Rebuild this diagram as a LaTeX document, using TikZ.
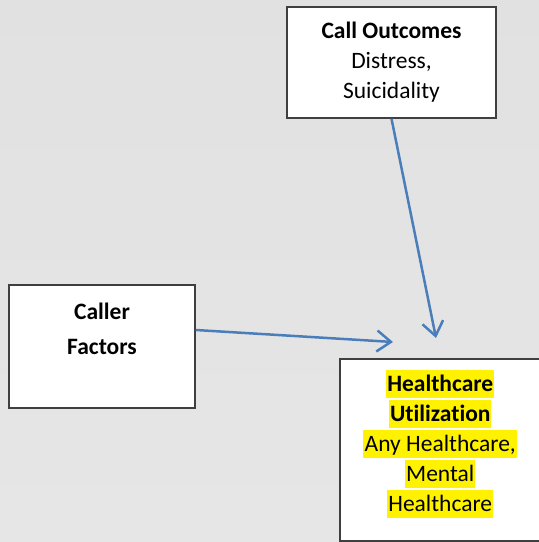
\documentclass[tikz,border=0pt]{standalone}
\usepackage{fontspec}
\setmainfont{Carlito}[Ligatures=NoCommon]
\usetikzlibrary{positioning,arrows.meta}
\definecolor{linkblue}{HTML}{4A7EBB}
\definecolor{boxgray}{HTML}{3F3F3F}
\newcommand{\hlline}[1]{{\setlength{\fboxsep}{0pt}%
  \colorbox{yellow}{\hspace{1.5bp}\rule[-6.5bp]{0pt}{28bp}#1\hspace{1bp}}}}

\begin{document}
\begin{tikzpicture}[x=1bp,y=1bp,
  box/.style={draw=boxgray,line width=1.5bp,fill=white,align=center,inner sep=0pt,
    font=\fontsize{23.5bp}{30bp}\selectfont},
  link/.style={draw=linkblue,line width=2.5bp,-{Straight Barb[length=14bp,width=21bp]}}]
\useasboundingbox (0,0) rectangle (539,542);
\clip (0,0) rectangle (539,542);
\shade[top color=white!88.3!black,bottom color=white!90.2!black] (0,0) rectangle (539,542);
% boxes
\node[box,minimum width=209bp,minimum height=111bp] (outcomes) at (391.5,479.5)
  {\textbf{Call Outcomes}\\Distress,\\Suicidality};
\node[box,minimum width=186bp,minimum height=123bp] (factors) at (102,195.5)
  {\textbf{Caller}\\[5bp]\textbf{Factors}\\[5bp]\mbox{}};
\node[box,minimum width=202bp,minimum height=182bp] (util) at (441,92) {};
\node[below=12bp of util.north,xshift=-1bp,align=center,inner sep=0pt,
  font=\fontsize{23.5bp}{30bp}\selectfont] (utiltext)
  {\hlline{\textbf{Healthcare}}\\\hlline{\textbf{Utilization}}\\
   \hlline{Any Healthcare,}\\\hlline{Mental}\\\hlline{Healthcare}};
% arrows
\coordinate (headA) at (436,204);
\coordinate (headB) at (393,200);
\draw[link] (outcomes.south) -- (headA);
\draw[link] ([yshift=16.5bp]factors.east) -- (headB);
\end{tikzpicture}
\end{document}
